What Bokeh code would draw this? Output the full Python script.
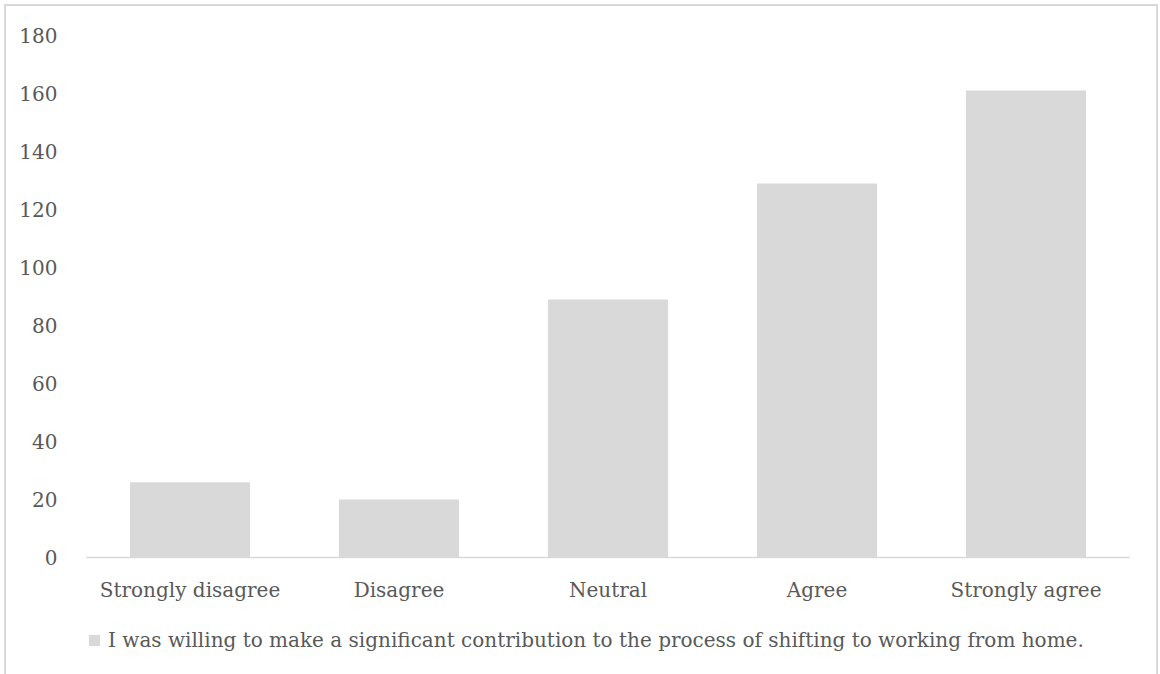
from bokeh.plotting import figure
from bokeh.models import ColumnDataSource, FactorRange, Range1d, Legend, LegendItem, FixedTicker
from bokeh.embed import file_html
from bokeh.resources import INLINE

categories = ["Strongly disagree", "Disagree", "Neutral", "Agree", "Strongly agree"]
values = [26, 20, 89, 129, 161]
series_name = "I was willing to make a significant contribution to the process of shifting to working from home."
y_ticks = [0, 20, 40, 60, 80, 100, 120, 140, 160, 180]

FONT = "DejaVu Serif"
TXT = "#595959"
BAR = "#d9d9d9"

src = ColumnDataSource(dict(cat=categories, val=values))

p = figure(x_range=FactorRange(*categories, range_padding=0), y_range=Range1d(-42.4, 180),
           frame_width=1045, frame_height=645, output_backend="svg", toolbar_location=None,
           min_border_left=79, min_border_right=26, min_border_top=29, min_border_bottom=10)
p.margin = (4, 0, 0, 4)
p.styles = {"border": "2px solid #d9d9d9", "box-sizing": "border-box"}
p.outline_line_color = None
p.xgrid.grid_line_color = None
p.ygrid.grid_line_color = None

r = p.vbar(x="cat", top="val", width=0.575, source=src, fill_color=BAR, line_color=None)

p.yaxis.ticker = FixedTicker(ticks=y_ticks)
p.yaxis.axis_line_color = None
p.yaxis.major_tick_line_color = None
p.yaxis.minor_tick_line_color = None
p.yaxis.major_label_text_font = FONT
p.yaxis.major_label_text_font_size = "20px"
p.yaxis.major_label_text_color = TXT
p.yaxis.major_label_standoff = 22

p.xaxis.fixed_location = 0
p.xaxis.axis_line_color = "#d9d9d9"
p.xaxis.axis_line_width = 1.5
p.xaxis.major_tick_line_color = None
p.xaxis.minor_tick_line_color = None
p.xaxis.major_label_text_font = FONT
p.xaxis.major_label_text_font_size = "20px"
p.xaxis.major_label_text_color = TXT
p.xaxis.major_label_standoff = 14

legend = Legend(items=[LegendItem(label=series_name, renderers=[r])], location=(2, 28),
                orientation="horizontal", label_text_font=FONT, label_text_font_size="20px",
                label_text_color=TXT, glyph_width=14, glyph_height=14, border_line_color=None,
                background_fill_alpha=0, padding=0, margin=0, label_standoff=7)
p.add_layout(legend, "center")

open("out.html", "w").write(file_html(p, INLINE))
